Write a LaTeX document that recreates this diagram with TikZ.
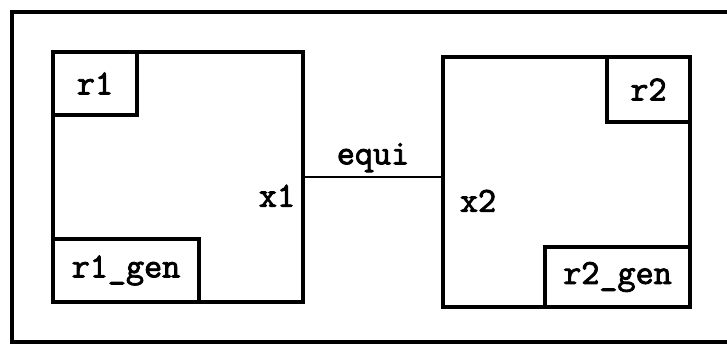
\documentclass[tikz,border=0pt]{standalone}
\usepackage{fontspec}
\newfontfamily\lblfont{Latin Modern Mono}[FakeBold=2.5]
\usetikzlibrary{positioning}

\begin{document}
\begin{tikzpicture}[
    ebox/.style={draw, rectangle, line width=2.2pt, minimum width=5.0cm, minimum height=5.0cm},
    rbox/.style={draw, rectangle, line width=2.2pt, inner sep=0pt, font=\lblfont\fontsize{20}{22}\selectfont},
    lbl/.style={inner sep=2pt, font=\lblfont\fontsize{20}{22}\selectfont},
    link/.style={line width=1.5pt}
]
\useasboundingbox (0,0) rectangle (14.54,6.94);
\draw[line width=2pt] (14.54,6.70) -- (0.24,6.70) -- (0.24,0.10) -- (14.54,0.10);

\node[ebox] (ex1) at (3.56,3.40) {};
\node[ebox, minimum width=4.94cm] (ex2) at (11.33,3.30) {};

\node[rbox, minimum width=1.68cm, minimum height=1.26cm, anchor=north west] (r1) at (ex1.north west) {r1};
\node[rbox, minimum width=2.92cm, minimum height=1.26cm, anchor=south west] (r1gen) at (ex1.south west) {r1\_gen};
\node[rbox, minimum width=1.66cm, minimum height=1.30cm, anchor=north east] (r2) at (ex2.north east) {r2};
\node[rbox, minimum width=2.90cm, minimum height=1.20cm, anchor=south east] (r2gen) at (ex2.south east) {r2\_gen};

\node[lbl, below left=0.08cm and 0.12cm of ex1.east] (x1) {x1};
\node[lbl, below right=0.08cm and 0.30cm of ex2.west] (x2) {x2};

\draw[link] (ex1.east) -- (ex1.east -| ex2.west) node[lbl, midway, above=0pt] (equi) {equi};
\end{tikzpicture}
\end{document}
